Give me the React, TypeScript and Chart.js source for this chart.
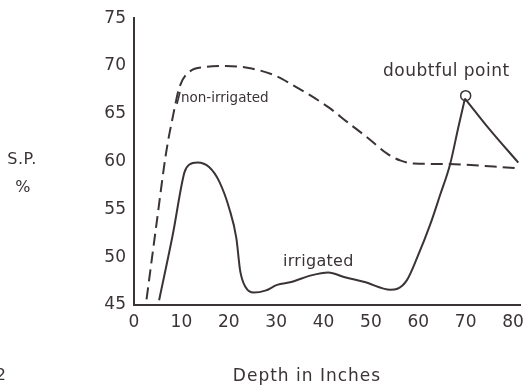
import React, { useEffect, useRef } from "react";
import { Chart, registerables } from "chart.js";

Chart.register(...registerables);

// Non-irrigated (dashed)
const depthNonIrrigated = [2.65, 4.7, 6.8, 8.2, 9.6, 11.7, 15.2, 19.4, 24.2, 29.8, 33.2, 41.0, 45.1, 49.3, 53.5, 56.3, 59.1, 65.3, 81.3];
const spNonIrrigated = [45.6, 53.3, 61.0, 64.7, 67.8, 69.4, 69.9, 70.0, 69.8, 69.0, 68.1, 65.7, 64.1, 62.5, 60.8, 60.1, 59.8, 59.75, 59.3];

// Irrigated (solid) up to the doubtful point
const depthIrrigated = [5.3, 8.2, 10.66, 11.7, 13.4, 15.9, 18.0, 20.1, 21.6, 22.4, 23.5, 25.3, 27.7, 30.2, 33.2, 37.4, 41.0, 44.5, 48.7, 54.1, 55.6, 57.6, 59.8, 62.5, 64.6, 66.7, 68.5, 69.85];
const spIrrigated = [45.5, 52.4, 58.9, 59.7, 59.9, 59.4, 57.9, 55.1, 52.0, 48.6, 46.9, 46.3, 46.5, 47.1, 47.4, 48.1, 48.4, 47.9, 47.4, 46.6, 46.7, 47.6, 50.0, 53.4, 56.5, 59.7, 63.7, 66.6];

// Irrigated after the doubtful point
const depthIrrigatedTail = [69.85, 75.0, 81.1];
const spIrrigatedTail = [66.6, 63.4, 59.9];

// Doubtful point marker
const depthDoubtful = [70.0];
const spDoubtful = [66.9];

const xTicks = [0, 10, 20, 30, 40, 50, 60, 70, 80];
const yTicks = [45, 50, 55, 60, 65, 70, 75];

const INK = "#3a3337";
const FONT = "'DejaVu Sans', sans-serif";

const toPts = (xs: number[], ys: number[]) => xs.map((x, i) => ({ x, y: ys[i] }));

const textPlugin = {
  id: "texts",
  afterDraw(chart: any) {
    const ctx = chart.ctx;
    ctx.save();
    ctx.fillStyle = INK;
    ctx.strokeStyle = INK;
    ctx.textBaseline = "middle";
    const setSpacing = (v: string) => { try { (ctx as any).letterSpacing = v; } catch (e) {} };
    ctx.textAlign = "center";
    ctx.font = `16px ${FONT}`;
    setSpacing("0.5px");
    ctx.fillText("S.P.", 22, 160);
    ctx.fillText("%", 23, 188);
    ctx.fillText("2", 1, 376);
    ctx.font = `17px ${FONT}`;
    setSpacing("1px");
    ctx.fillText("Depth in Inches", 307, 377);
    ctx.textAlign = "left";
    ctx.font = `13.5px ${FONT}`;
    setSpacing("0px");
    ctx.fillText("non-irrigated", 181, 98);
    ctx.font = `16px ${FONT}`;
    setSpacing("0.3px");
    ctx.fillText("irrigated", 283, 262);
    ctx.font = `17px ${FONT}`;
    setSpacing("0.5px");
    ctx.fillText("doubtful point", 383, 72);
    ctx.lineWidth = 1.5;
    ctx.beginPath();
    ctx.moveTo(177, 104);
    ctx.lineTo(180, 92);
    ctx.stroke();
    ctx.restore();
  },
};

export default function App() {
  const ref = useRef<HTMLCanvasElement>(null);
  useEffect(() => {
    if (!ref.current) return;
    const chart = new Chart(ref.current, {
      type: "line",
      data: {
        datasets: [
          {
            data: toPts(depthNonIrrigated, spNonIrrigated),
            borderColor: INK,
            borderWidth: 2,
            borderDash: [12, 6],
            pointRadius: 0,
            cubicInterpolationMode: "monotone",
            fill: false,
          },
          {
            data: toPts(depthIrrigated, spIrrigated),
            borderColor: INK,
            borderWidth: 2,
            pointRadius: 0,
            cubicInterpolationMode: "monotone",
            fill: false,
          },
          {
            data: toPts(depthIrrigatedTail, spIrrigatedTail),
            borderColor: INK,
            borderWidth: 2,
            pointRadius: 0,
            cubicInterpolationMode: "monotone",
            fill: false,
          },
          {
            data: toPts(depthDoubtful, spDoubtful),
            showLine: false,
            pointRadius: 5,
            pointBorderWidth: 1.5,
            pointBorderColor: INK,
            pointBackgroundColor: "rgba(0,0,0,0)",
          },
        ],
      },
      options: {
        responsive: false,
        animation: false,
        devicePixelRatio: 1,
        layout: { padding: { left: 0, right: 7, top: 13.5, bottom: 0 } },
        plugins: { legend: { display: false }, tooltip: { enabled: false } },
        scales: {
          x: {
            type: "linear",
            min: 0,
            max: 81.5,
            grid: { display: false, drawTicks: false },
            border: { display: true, color: INK, width: 2 },
            ticks: { color: INK, font: { family: FONT, size: 17 }, padding: 7, maxRotation: 0, autoSkip: false },
            afterBuildTicks: (s: any) => { s.ticks = xTicks.map((v) => ({ value: v })); },
            afterFit: (s: any) => { s.height = 82; },
          },
          y: {
            type: "linear",
            min: 45,
            max: 75,
            grid: { display: false, drawTicks: false },
            border: { display: true, color: INK, width: 2 },
            ticks: { color: INK, font: { family: FONT, size: 17 }, padding: 8, autoSkip: false },
            afterBuildTicks: (s: any) => { s.ticks = yTicks.map((v) => ({ value: v })); },
            afterFit: (s: any) => { s.width = 134; },
          },
        },
      },
      plugins: [textPlugin],
    } as any);
    return () => chart.destroy();
  }, []);
  return (
    <div style={{ position: "fixed", left: 0, top: 0, width: 531, height: 387, background: "#fff" }}>
      <canvas ref={ref} width={531} height={387} style={{ display: "block" }} />
    </div>
  );
}
